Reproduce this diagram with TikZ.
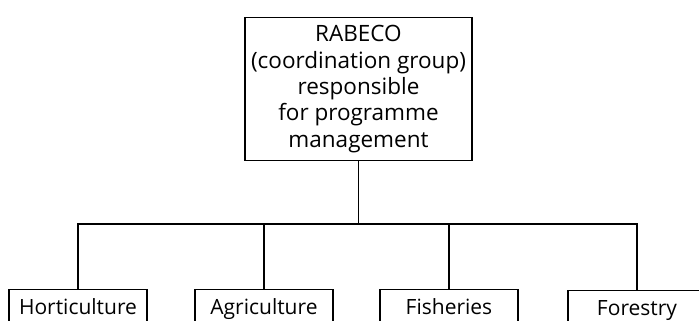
\documentclass[tikz,border=0pt]{standalone}
\usepackage{fontspec}
\setmainfont{Open Sans}
\begin{document}
\begin{tikzpicture}[x=1pt,y=-1pt,
  headbox/.style={draw, line width=1.3pt, minimum width=227pt, minimum height=143pt,
    inner sep=0pt, align=center, font=\fontsize{22.5}{26.3}\selectfont},
  unitbox/.style={draw, line width=1.3pt, anchor=north, minimum width=138pt,
    minimum height=38pt, inner sep=0pt, text height=15pt, text depth=4pt,
    font=\fontsize{21}{22}\selectfont},
  link/.style={draw, line width=1.3pt}]
  \clip (0,0) rectangle (699,321);
  \fill[white] (0,0) rectangle (699,321);

  % programme management group
  \node[headbox] (rabeco) at (358.5,89)
    {RABECO\\(coordination group)\\responsible\\for programme\\management};

  % the four sectors
  \node[unitbox] (hort)   at (78,289)  {Horticulture};
  \node[unitbox] (agri)   at (264,289) {Agriculture};
  \node[unitbox] (fish)   at (449,289) {Fisheries};
  \node[unitbox] (forest) at (637,290) {Forestry};

  % connecting bus
  \coordinate (bus) at (358.5,224);
  \path[link] (rabeco.south) -- (bus);
  \path[link] (hort.north) |- (bus) -| (forest.north);
  \path[link] (agri.north) -- (agri.north |- bus);
  \path[link] (fish.north) -- (fish.north |- bus);
\end{tikzpicture}
\end{document}
